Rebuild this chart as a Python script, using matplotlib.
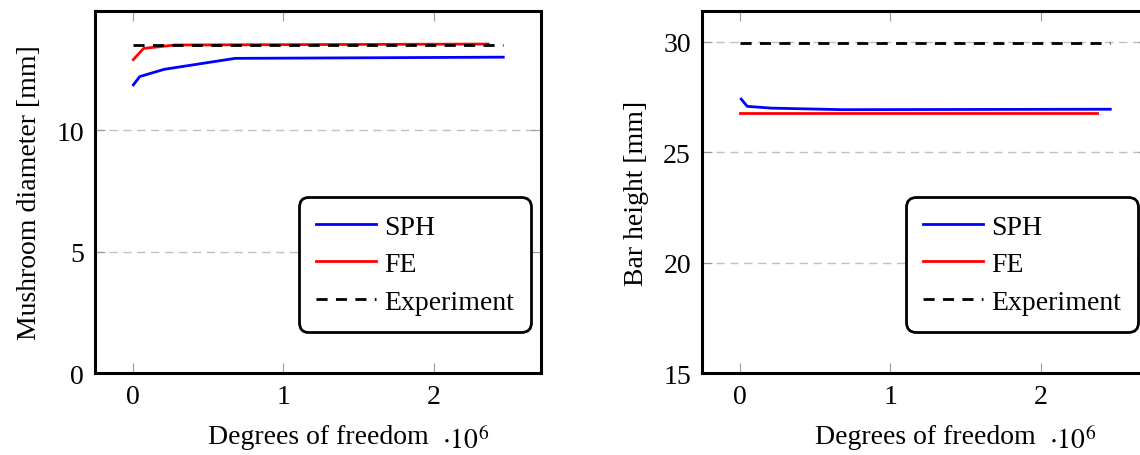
import matplotlib
matplotlib.use("Agg")
import matplotlib.pyplot as plt

plt.rcParams['font.family'] = ['Liberation Serif', 'DejaVu Serif']
plt.rcParams['mathtext.fontset'] = 'stix'

# Left panel: mushroom diameter
sph_d_x = [0.005, 0.047, 0.21, 0.68, 2.46]
sph_d_y = [11.86, 12.2, 12.5, 12.95, 13.0]
fe_d_x = [0.005, 0.073, 0.28, 2.36]
fe_d_y = [12.9, 13.36, 13.5, 13.54]
exp_d_x = [0.0, 2.46]
exp_d_y = [13.5, 13.5]

# Right panel: bar height
sph_h_x = [0.01, 0.05, 0.21, 0.68, 2.46]
sph_h_y = [27.41, 27.08, 27.0, 26.93, 26.95]
fe_h_x = [0.005, 2.37]
fe_h_y = [26.78, 26.78]
exp_h_x = [0.0, 2.46]
exp_h_y = [29.93, 29.93]

xticks = [0, 1, 2]
left_yticks = [0, 5, 10]
right_yticks = [15, 20, 25, 30]

fig = plt.figure(figsize=(11.4, 4.56), dpi=100)
axL = fig.add_axes([0.0833, 0.1798, 0.3912, 0.7939])
axR = fig.add_axes([0.6158, 0.1798, 0.3912, 0.7939])

FS = 20

def style(ax, yticks, ylim, ylabel):
    ax.set_xlim(-0.25, 2.71)
    ax.set_ylim(*ylim)
    ax.set_xticks(xticks)
    ax.set_yticks(yticks)
    ax.yaxis.grid(True, color='#c0c0c0', linestyle=(0, (6, 4)), linewidth=1.0)
    ax.set_axisbelow(True)
    for s in ax.spines.values():
        s.set_linewidth(2.2)
    ax.tick_params(direction='in', top=True, right=True, length=7, width=0.8,
                   color='#999999', labelsize=FS, pad=8)
    ax.set_xlabel('Degrees of freedom', fontsize=FS, labelpad=11)
    ax.set_ylabel(ylabel, fontsize=FS, labelpad=10)
    ax.text(0.778, -0.186, r'$\cdot 10^{6}$', transform=ax.transAxes,
            fontsize=FS, ha='left', va='center')

def legend(ax):
    leg = ax.legend(loc='lower right', bbox_to_anchor=(0.978, 0.113), fontsize=FS,
                    borderaxespad=0,
                    frameon=True, fancybox=True, handlelength=2.15,
                    borderpad=0.62, labelspacing=0.44, handletextpad=0.3)
    fr = leg.get_frame()
    fr.set_edgecolor('black')
    fr.set_linewidth(2.0)
    fr.set_alpha(1)
    fr.set_boxstyle('round,pad=0,rounding_size=0.35')

axL.plot(sph_d_x, sph_d_y, color='blue', lw=2, label='SPH')
axL.plot(fe_d_x, fe_d_y, color='red', lw=2, label='FE')
axL.plot(exp_d_x, exp_d_y, color='black', lw=2, linestyle=(0, (4, 3)), label='Experiment')
style(axL, left_yticks, (0, 14.9), 'Mushroom diameter [mm]')
legend(axL)

axR.plot(sph_h_x, sph_h_y, color='blue', lw=2, label='SPH')
axR.plot(fe_h_x, fe_h_y, color='red', lw=2, label='FE')
axR.plot(exp_h_x, exp_h_y, color='black', lw=2, linestyle=(0, (4, 3)), label='Experiment')
style(axR, right_yticks, (15, 31.4), 'Bar height [mm]')
legend(axR)

fig.savefig('out.png', dpi=100)
